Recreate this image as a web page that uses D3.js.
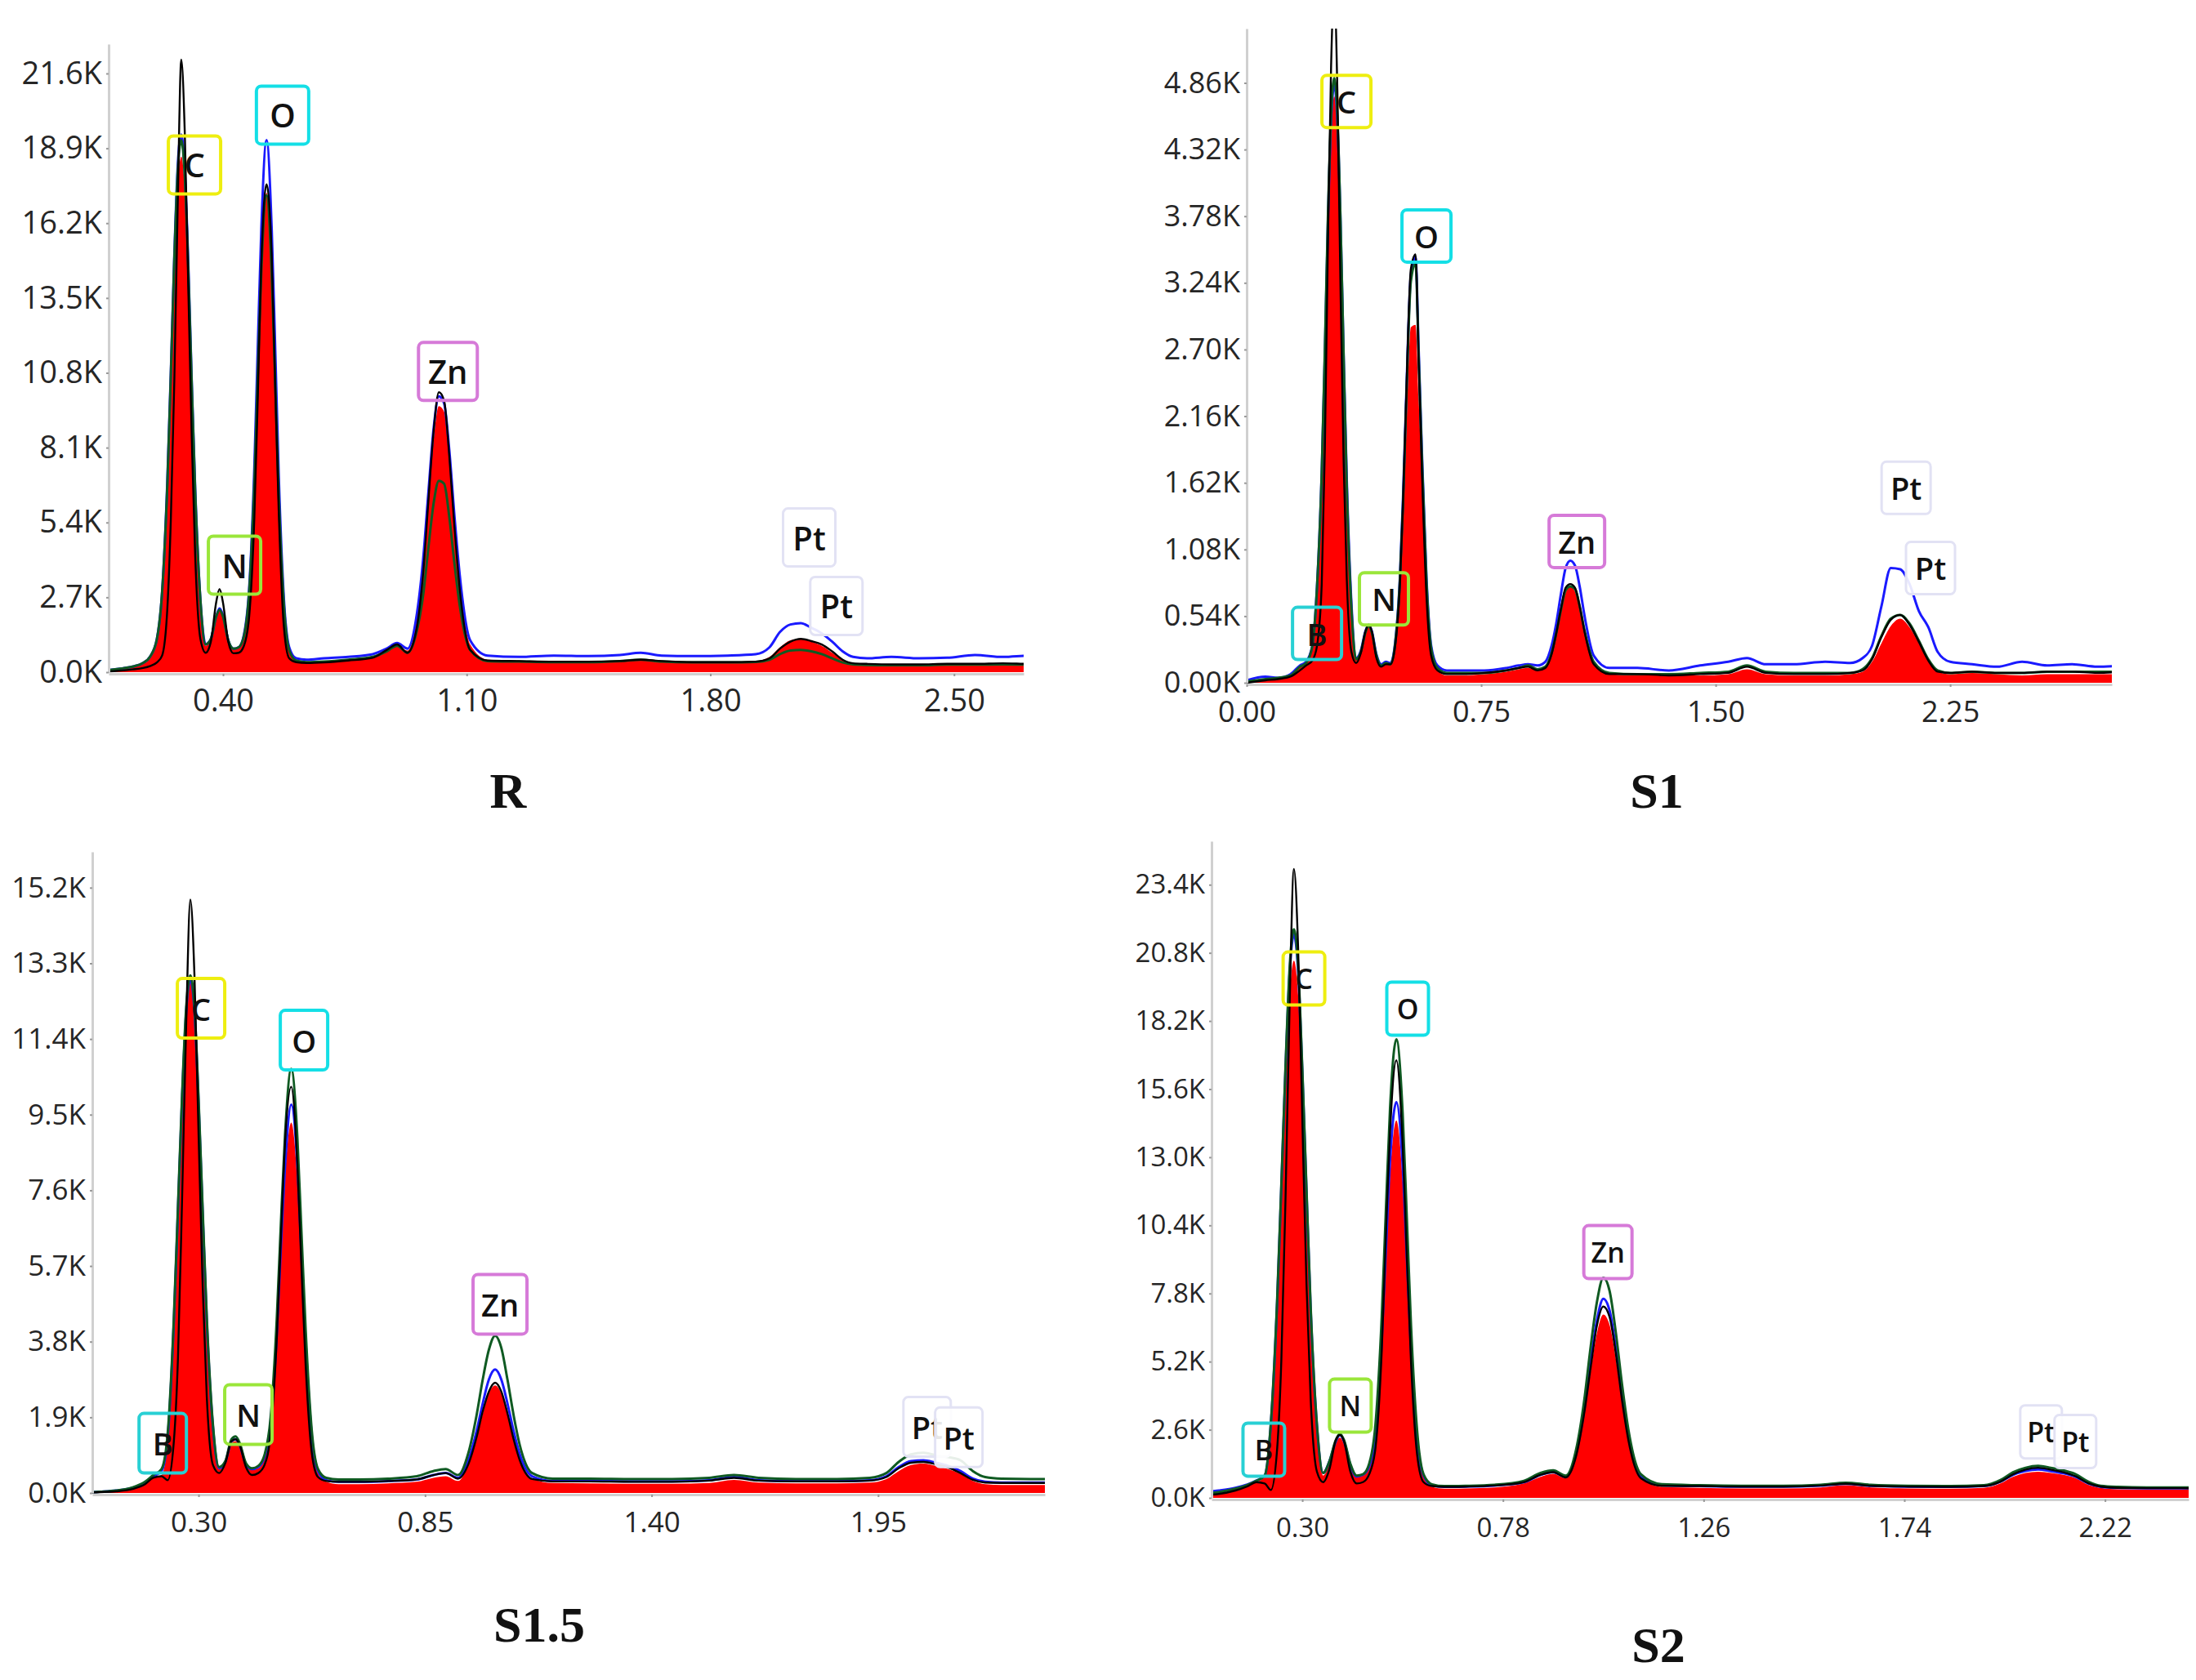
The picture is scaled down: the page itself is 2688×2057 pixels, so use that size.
<!DOCTYPE html>
<html>
<head>
<meta charset="utf-8">
<script src="https://cdn.jsdelivr.net/npm/d3@7"></script>
<style>
  body { margin: 0; background: #fff; }
  svg { display: block; }
</style>
</head>
<body>
<svg id="chart" width="2688" height="2057"></svg>
<script>
// energy grid (keV), shared by every spectrum below
const energy = [
  0.00, 0.06, 0.10, 0.14, 0.17, 0.19, 0.21, 0.225, 0.24, 0.25,
  0.26, 0.27, 0.28, 0.29, 0.30, 0.31, 0.32, 0.335, 0.35, 0.365,
  0.38, 0.39, 0.40, 0.415, 0.43, 0.445, 0.46, 0.475, 0.49, 0.50,
  0.51, 0.525, 0.54, 0.55, 0.56, 0.575, 0.59, 0.61, 0.64, 0.69,
  0.76, 0.83, 0.87, 0.90, 0.93, 0.955, 0.975, 0.99, 1.005, 1.02,
  1.035, 1.05, 1.065, 1.08, 1.11, 1.16, 1.25, 1.35, 1.45, 1.54,
  1.60, 1.66, 1.75, 1.85, 1.93, 1.97, 2.00, 2.03, 2.06, 2.09,
  2.12, 2.15, 2.18, 2.21, 2.25, 2.32, 2.40, 2.48, 2.56, 2.64,
  2.72, 2.80
];

// counts, in thousands (K)
// ---- R
const rRed = [
  0.02, 0.05, 0.10, 0.18, 0.30, 0.50, 1.1, 2.7, 6.5, 10.3,
  14.3, 17.5, 18.6, 17.4, 14.2, 10.1, 6.3, 2.5, 0.95, 1.2,
  2.05, 2.3, 2.05, 1.15, 0.85, 0.9, 1.3, 2.8, 6.9, 10.8,
  14.6, 17.3, 14.4, 10.5, 6.5, 2.4, 0.8, 0.42, 0.35, 0.37,
  0.45, 0.55, 0.75, 0.92, 0.78, 1.8, 3.9, 6.2, 8.4, 9.6,
  9.4, 7.7, 5.4, 3.3, 1.0, 0.45, 0.42, 0.4, 0.4, 0.42,
  0.48, 0.42, 0.38, 0.38, 0.4, 0.55, 0.9, 1.15, 1.2, 1.1,
  0.95, 0.7, 0.45, 0.33, 0.3, 0.28, 0.28, 0.3, 0.3, 0.32,
  0.3, 0.3
];
const rBlue = [
  0.02, 0.06, 0.12, 0.2, 0.33, 0.55, 1.2, 2.9, 6.9, 10.8,
  15.0, 18.3, 19.4, 18.1, 14.8, 10.5, 6.6, 2.6, 1.0, 1.2,
  2.0, 2.3, 2.05, 1.15, 0.85, 0.9, 1.35, 3.0, 7.4, 11.8,
  16.0, 19.2, 15.9, 11.6, 7.1, 2.6, 0.9, 0.5, 0.45, 0.5,
  0.55, 0.65, 0.85, 1.05, 0.85, 1.95, 4.1, 6.5, 8.8, 9.95,
  9.7, 8.0, 5.6, 3.5, 1.15, 0.6, 0.55, 0.6, 0.58, 0.62,
  0.7, 0.6, 0.58, 0.6, 0.65, 0.9, 1.45, 1.72, 1.77, 1.6,
  1.4, 1.1, 0.75, 0.55, 0.5, 0.55, 0.5, 0.52, 0.62, 0.55,
  0.6, 0.6
];
const rGreen = [
  0.02, 0.06, 0.12, 0.2, 0.33, 0.55, 1.2, 2.9, 6.8, 10.7,
  14.9, 18.1, 19.2, 17.9, 14.6, 10.4, 6.5, 2.6, 1.0, 1.2,
  2.0, 2.25, 2.0, 1.15, 0.85, 0.9, 1.3, 2.9, 6.9, 10.8,
  14.5, 17.2, 14.3, 10.4, 6.4, 2.4, 0.8, 0.42, 0.36, 0.38,
  0.45, 0.55, 0.75, 0.95, 0.7, 1.4, 2.8, 4.5, 6.1, 6.9,
  6.8, 5.6, 3.9, 2.4, 0.8, 0.4, 0.38, 0.36, 0.36, 0.4,
  0.45, 0.38, 0.35, 0.35, 0.37, 0.45, 0.65, 0.78, 0.8, 0.75,
  0.65, 0.5, 0.35, 0.28, 0.26, 0.25, 0.25, 0.27, 0.27, 0.28,
  0.27, 0.27
];
const rBlack = [
  0.0, 0.02, 0.05, 0.1, 0.15, 0.22, 0.35, 0.6, 2.3, 5.5,
  10.5, 17.0, 22.1, 19.5, 14.0, 8.5, 4.2, 1.2, 0.7, 1.1,
  2.5, 3.0, 2.5, 1.1, 0.68, 0.7, 0.95, 2.0, 5.6, 10.0,
  14.8, 17.6, 15.0, 10.2, 5.8, 1.6, 0.5, 0.36, 0.33, 0.35,
  0.42, 0.52, 0.8, 1.0, 0.7, 1.5, 3.6, 6.2, 8.7, 10.1,
  9.8, 7.8, 5.2, 3.0, 0.8, 0.42, 0.4, 0.38, 0.38, 0.4,
  0.45, 0.4, 0.36, 0.36, 0.38, 0.5, 0.85, 1.1, 1.2, 1.12,
  1.0, 0.75, 0.45, 0.32, 0.3, 0.28, 0.28, 0.3, 0.3, 0.32,
  0.3, 0.3
];

// ---- S1
const s1Red = [
  0.0, 0.02, 0.03, 0.05, 0.12, 0.16, 0.3, 0.75, 1.65, 2.6,
  3.65, 4.45, 4.75, 4.45, 3.65, 2.6, 1.6, 0.62, 0.2, 0.25,
  0.4, 0.45, 0.4, 0.22, 0.15, 0.17, 0.15, 0.3, 0.75, 1.3,
  2.0, 2.88, 2.9, 2.3, 1.65, 0.75, 0.25, 0.1, 0.06, 0.06,
  0.07, 0.09, 0.11, 0.12, 0.1, 0.12, 0.23, 0.38, 0.57, 0.73,
  0.78, 0.74, 0.6, 0.42, 0.16, 0.07, 0.06, 0.06, 0.06, 0.07,
  0.11, 0.07, 0.06, 0.06, 0.07, 0.09, 0.17, 0.32, 0.46, 0.52,
  0.45, 0.32, 0.18, 0.09, 0.07, 0.08, 0.07, 0.06, 0.07, 0.07,
  0.07, 0.07
];
const s1Blue = [
  0.02, 0.05, 0.04, 0.07, 0.14, 0.17, 0.3, 0.78, 1.7, 2.65,
  3.75, 4.55, 4.85, 4.55, 3.75, 2.65, 1.65, 0.64, 0.2, 0.26,
  0.42, 0.47, 0.42, 0.23, 0.15, 0.17, 0.16, 0.33, 0.85, 1.5,
  2.3, 3.3, 3.45, 2.7, 1.9, 0.85, 0.3, 0.14, 0.1, 0.1,
  0.1, 0.12, 0.14, 0.15, 0.14, 0.17, 0.3, 0.48, 0.72, 0.93,
  0.99, 0.95, 0.78, 0.55, 0.22, 0.12, 0.12, 0.1, 0.14, 0.17,
  0.2, 0.15, 0.15, 0.17, 0.16, 0.2, 0.3, 0.62, 0.93, 0.92,
  0.8, 0.58, 0.45, 0.25, 0.17, 0.15, 0.13, 0.17, 0.14, 0.15,
  0.13, 0.14
];
const s1Green = [
  0.01, 0.03, 0.04, 0.06, 0.13, 0.16, 0.3, 0.78, 1.7, 2.7,
  3.8, 4.6, 4.9, 4.6, 3.75, 2.65, 1.6, 0.6, 0.19, 0.25,
  0.41, 0.46, 0.41, 0.22, 0.14, 0.16, 0.15, 0.32, 0.83, 1.45,
  2.25, 3.25, 3.4, 2.65, 1.85, 0.82, 0.28, 0.12, 0.08, 0.08,
  0.08, 0.1, 0.12, 0.14, 0.11, 0.13, 0.24, 0.4, 0.59, 0.75,
  0.78, 0.76, 0.62, 0.43, 0.17, 0.08, 0.07, 0.07, 0.08, 0.09,
  0.14, 0.09, 0.08, 0.08, 0.08, 0.11, 0.2, 0.38, 0.52, 0.55,
  0.48, 0.34, 0.19, 0.1, 0.08, 0.09, 0.08, 0.08, 0.09, 0.09,
  0.09, 0.09
];
const s1Black = [
  0.0, 0.02, 0.03, 0.05, 0.1, 0.14, 0.18, 0.3, 0.8, 1.9,
  3.6, 5.0, 5.6, 4.8, 3.2, 1.8, 0.85, 0.25, 0.16, 0.24,
  0.42, 0.47, 0.42, 0.2, 0.13, 0.15, 0.15, 0.3, 0.8, 1.45,
  2.3, 3.35, 3.47, 2.6, 1.75, 0.7, 0.22, 0.1, 0.07, 0.07,
  0.08, 0.1, 0.12, 0.13, 0.1, 0.12, 0.23, 0.4, 0.6, 0.77,
  0.8, 0.77, 0.62, 0.42, 0.15, 0.07, 0.07, 0.06, 0.07, 0.08,
  0.13, 0.08, 0.07, 0.07, 0.08, 0.1, 0.19, 0.37, 0.51, 0.55,
  0.47, 0.33, 0.18, 0.09, 0.08, 0.09, 0.08, 0.08, 0.09, 0.09,
  0.08, 0.09
];

// ---- S1.5
const s15Red = [
  0.0, 0.02, 0.05, 0.1, 0.22, 0.38, 0.45, 1.3, 4.2, 7.0,
  9.8, 12.1, 12.9, 12.1, 9.8, 7.0, 4.3, 1.6, 0.6, 0.75,
  1.25, 1.3, 1.15, 0.7, 0.58, 0.62, 0.85, 1.65, 3.8, 5.95,
  7.9, 9.3, 7.8, 5.7, 3.6, 1.35, 0.5, 0.28, 0.22, 0.22,
  0.24, 0.28, 0.38, 0.42, 0.3, 0.73, 1.37, 1.98, 2.5, 2.7,
  2.5, 1.98, 1.37, 0.86, 0.36, 0.25, 0.24, 0.23, 0.23, 0.25,
  0.33, 0.26, 0.24, 0.24, 0.26, 0.35, 0.55, 0.7, 0.74, 0.68,
  0.6, 0.48, 0.3, 0.22, 0.2, 0.2, 0.2, 0.2, 0.2, 0.2,
  0.2, 0.2
];
const s15Blue = [
  0.0, 0.03, 0.06, 0.13, 0.26, 0.42, 0.55, 1.4, 4.3, 7.1,
  9.9, 12.1, 12.9, 12.1, 9.8, 7.0, 4.3, 1.65, 0.62, 0.78,
  1.3, 1.35, 1.2, 0.72, 0.6, 0.65, 0.9, 1.75, 4.0, 6.2,
  8.2, 9.75, 8.2, 5.95, 3.8, 1.42, 0.55, 0.32, 0.28, 0.28,
  0.3, 0.34, 0.45, 0.5, 0.38, 0.82, 1.55, 2.25, 2.85, 3.1,
  2.85, 2.25, 1.55, 0.97, 0.42, 0.3, 0.3, 0.29, 0.29, 0.32,
  0.4, 0.32, 0.3, 0.3, 0.32, 0.42, 0.65, 0.8, 0.82, 0.76,
  0.68, 0.55, 0.36, 0.28, 0.26, 0.26, 0.26, 0.26, 0.27, 0.26,
  0.26, 0.26
];
const s15Green = [
  0.0, 0.03, 0.06, 0.14, 0.28, 0.45, 0.6, 1.5, 4.4, 7.2,
  10.0, 12.2, 13.0, 12.2, 9.9, 7.1, 4.4, 1.7, 0.65, 0.8,
  1.35, 1.42, 1.25, 0.75, 0.62, 0.68, 0.95, 1.9, 4.4, 6.8,
  9.0, 10.65, 8.9, 6.5, 4.1, 1.55, 0.6, 0.38, 0.34, 0.34,
  0.36, 0.42, 0.55, 0.6, 0.45, 1.0, 1.95, 2.85, 3.6, 3.95,
  3.65, 2.85, 1.95, 1.2, 0.5, 0.36, 0.36, 0.35, 0.35, 0.38,
  0.45, 0.38, 0.35, 0.35, 0.38, 0.5, 0.78, 0.97, 1.01, 0.95,
  0.9, 0.82, 0.55, 0.4, 0.36, 0.35, 0.35, 0.35, 0.36, 0.35,
  0.35, 0.35
];
const s15Black = [
  0.0, 0.02, 0.04, 0.1, 0.22, 0.38, 0.42, 0.32, 1.3, 3.4,
  7.4, 11.8, 14.9, 13.0, 9.0, 5.2, 2.4, 0.7, 0.5, 0.75,
  1.3, 1.35, 1.2, 0.65, 0.45, 0.5, 0.7, 1.5, 3.9, 6.4,
  8.8, 10.2, 8.2, 5.6, 3.2, 1.0, 0.4, 0.3, 0.28, 0.28,
  0.3, 0.34, 0.45, 0.5, 0.36, 0.72, 1.4, 2.05, 2.55, 2.77,
  2.55, 2.0, 1.35, 0.82, 0.35, 0.29, 0.29, 0.28, 0.28, 0.31,
  0.38, 0.31, 0.29, 0.29, 0.31, 0.4, 0.62, 0.76, 0.78, 0.72,
  0.64, 0.5, 0.33, 0.26, 0.25, 0.25, 0.25, 0.25, 0.26, 0.25,
  0.25, 0.25
];

// ---- S2
const s2Red = [
  0.1, 0.12, 0.18, 0.3, 0.45, 0.6, 0.8, 2.6, 7.1, 11.4,
  15.6, 19.2, 20.5, 19.2, 15.5, 11.1, 6.9, 2.6, 0.85, 1.3,
  2.1, 2.3, 2.05, 1.2, 0.8, 0.85, 1.15, 2.4, 5.7, 9.0,
  12.3, 14.4, 12.1, 8.8, 5.5, 2.1, 0.8, 0.42, 0.35, 0.36,
  0.4, 0.55, 0.8, 0.92, 0.75, 1.57, 3.2, 4.85, 6.3, 7.0,
  6.6, 5.3, 3.6, 2.2, 0.75, 0.42, 0.38, 0.36, 0.36, 0.4,
  0.48, 0.4, 0.36, 0.35, 0.38, 0.55, 0.8, 0.95, 1.0, 0.95,
  0.88, 0.75, 0.5, 0.38, 0.33, 0.32, 0.32, 0.31, 0.3, 0.3,
  0.3, 0.3
];
const s2Blue = [
  0.2, 0.22, 0.28, 0.38, 0.52, 0.66, 0.85, 2.85, 7.5, 11.9,
  16.4, 20.1, 21.5, 20.1, 16.3, 11.7, 7.2, 2.75, 0.95, 1.4,
  2.15, 2.4, 2.15, 1.25, 0.82, 0.88, 1.2, 2.5, 6.0, 9.5,
  12.9, 15.1, 12.7, 9.2, 5.7, 2.2, 0.85, 0.48, 0.42, 0.43,
  0.47, 0.6, 0.88, 0.98, 0.8, 1.7, 3.45, 5.25, 6.8, 7.6,
  7.15, 5.7, 3.9, 2.4, 0.82, 0.48, 0.45, 0.43, 0.43, 0.47,
  0.54, 0.46, 0.43, 0.42, 0.45, 0.62, 0.88, 1.03, 1.08, 1.02,
  0.94, 0.8, 0.55, 0.42, 0.38, 0.37, 0.37, 0.36, 0.35, 0.35,
  0.35, 0.35
];
const s2Green = [
  0.12, 0.15, 0.22, 0.35, 0.5, 0.65, 0.85, 2.9, 7.6, 12.0,
  16.5, 20.3, 21.7, 20.3, 16.4, 11.8, 7.3, 2.8, 0.95, 1.4,
  2.2, 2.45, 2.2, 1.3, 0.85, 0.9, 1.3, 2.8, 6.9, 11.0,
  14.9, 17.5, 14.7, 10.7, 6.6, 2.5, 0.9, 0.52, 0.45, 0.46,
  0.5, 0.65, 0.95, 1.05, 0.85, 1.85, 3.8, 5.8, 7.5, 8.4,
  7.9, 6.3, 4.3, 2.6, 0.9, 0.52, 0.48, 0.46, 0.46, 0.5,
  0.58, 0.5, 0.46, 0.45, 0.48, 0.68, 0.98, 1.15, 1.22, 1.15,
  1.05, 0.9, 0.62, 0.46, 0.42, 0.4, 0.4, 0.39, 0.38, 0.38,
  0.38, 0.38
];
const s2Black = [
  0.08, 0.1, 0.15, 0.28, 0.45, 0.6, 0.55, 0.3, 1.9, 5.3,
  11.5, 19.0, 24.0, 21.0, 14.5, 8.2, 3.8, 1.0, 0.6, 1.1,
  2.2, 2.4, 2.15, 1.0, 0.55, 0.6, 0.9, 1.9, 5.6, 10.0,
  14.0, 16.7, 13.5, 9.2, 5.2, 1.6, 0.6, 0.45, 0.42, 0.43,
  0.47, 0.6, 0.88, 0.98, 0.78, 1.6, 3.3, 5.0, 6.6, 7.3,
  6.9, 5.5, 3.7, 2.2, 0.75, 0.46, 0.45, 0.43, 0.43, 0.47,
  0.54, 0.46, 0.43, 0.42, 0.45, 0.62, 0.9, 1.08, 1.15, 1.08,
  0.98, 0.82, 0.56, 0.43, 0.38, 0.37, 0.37, 0.36, 0.35, 0.35,
  0.35, 0.35
];

// tick values
const rYTicks = [0, 2.7, 5.4, 8.1, 10.8, 13.5, 16.2, 18.9, 21.6];
const rXTicks = [0.40, 1.10, 1.80, 2.50];
const s1YTicks = [0, 0.54, 1.08, 1.62, 2.16, 2.70, 3.24, 3.78, 4.32, 4.86];
const s1XTicks = [0.00, 0.75, 1.50, 2.25];
const s15YTicks = [0, 1.9, 3.8, 5.7, 7.6, 9.5, 11.4, 13.3, 15.2];
const s15XTicks = [0.30, 0.85, 1.40, 1.95];
const s2YTicks = [0, 2.6, 5.2, 7.8, 10.4, 13.0, 15.6, 18.2, 20.8, 23.4];
const s2XTicks = [0.30, 0.78, 1.26, 1.74, 2.22];

// element markers (keV, K counts of the box centre)
const rLabels = [
  { el: 'C', e: 0.318, v: 18.3 }, { el: 'O', e: 0.571, v: 20.1 },
  { el: 'N', e: 0.433, v: 3.86 }, { el: 'Zn', e: 1.046, v: 10.85 },
  { el: 'Pt', e: 2.084, v: 4.86 }, { el: 'Pt', e: 2.162, v: 2.39 }
];
const s1Labels = [
  { el: 'C', e: 0.319, v: 4.71 }, { el: 'O', e: 0.575, v: 3.62 },
  { el: 'N', e: 0.439, v: 0.68 }, { el: 'B', e: 0.225, v: 0.40 },
  { el: 'Zn', e: 1.056, v: 1.145 },
  { el: 'Pt', e: 2.109, v: 1.58 }, { el: 'Pt', e: 2.187, v: 0.93 }
];
const s15Labels = [
  { el: 'C', e: 0.306, v: 12.17 }, { el: 'O', e: 0.556, v: 11.37 },
  { el: 'N', e: 0.421, v: 1.97 }, { el: 'B', e: 0.213, v: 1.25 },
  { el: 'Zn', e: 1.032, v: 4.74 },
  { el: 'Pt', e: 2.069, v: 1.66 }, { el: 'Pt', e: 2.146, v: 1.40 }
];
const s2Labels = [
  { el: 'C', e: 0.304, v: 19.82 }, { el: 'O', e: 0.552, v: 18.67 },
  { el: 'N', e: 0.415, v: 3.52 }, { el: 'B', e: 0.208, v: 1.84 },
  { el: 'Zn', e: 1.031, v: 9.38 },
  { el: 'Pt', e: 2.067, v: 2.52 }, { el: 'Pt', e: 2.149, v: 2.15 }
];

const boxColor = { C: '#eeee10', O: '#14dfe6', N: '#9ae63a', B: '#28d0d4', Zn: '#d67ad8', Pt: '#e2e2f4' };

const seriesStyle = [
  { key: 'blue', color: '#1a1aff', width: 3 },
  { key: 'green', color: '#0f5a22', width: 3 },
  { key: 'black', color: '#000000', width: 2.4 }
];

const panels = [
  { title: 'R', red: rRed, blue: rBlue, green: rGreen, black: rBlack,
    xDomain: [0.0714, 2.70], yMax: 22.66, left: 133, right: 1253, top: 54, bottom: 823,
    yTicks: rYTicks, yFmt: '.1f', xTicks: rXTicks, labels: rLabels,
    font: 38, labelFont: 40, box: [64, 71], titleX: 622, titleY: 989 },
  { title: 'S1', red: s1Red, blue: s1Blue, green: s1Green, black: s1Black,
    xDomain: [0, 2.767], yMax: 5.30, left: 1526, right: 2585, top: 35, bottom: 836,
    yTicks: s1YTicks, yFmt: '.2f', xTicks: s1XTicks, labels: s1Labels,
    font: 36, labelFont: 38, box: [60, 64], titleX: 2028, titleY: 989 },
  { title: 'S1.5', red: s15Red, blue: s15Blue, green: s15Green, black: s15Black,
    xDomain: [0.042, 2.355], yMax: 16.1, left: 113, right: 1279, top: 1043, bottom: 1828,
    yTicks: s15YTicks, yFmt: '.1f', xTicks: s15XTicks, labels: s15Labels,
    font: 35, labelFont: 38, box: [58, 73], titleX: 660, titleY: 2010 },
  { title: 'S2', red: s2Red, blue: s2Blue, green: s2Green, black: s2Black,
    xDomain: [0.083, 2.42], yMax: 25.06, left: 1483, right: 2679, top: 1030, bottom: 1834,
    yTicks: s2YTicks, yFmt: '.1f', xTicks: s2XTicks, labels: s2Labels,
    font: 33, labelFont: 34, box: [51, 65], titleX: 2030, titleY: 2035 }
];

const svg = d3.select('#chart');

function drawPanel(p, i) {
  const x = d3.scaleLinear().domain(p.xDomain).range([p.left, p.right]);
  const y = d3.scaleLinear().domain([0, p.yMax]).range([p.bottom, p.top]);
  const g = svg.append('g');

  g.append('clipPath').attr('id', 'clip' + i)
    .append('rect')
    .attr('x', p.left).attr('y', p.top)
    .attr('width', p.right - p.left).attr('height', p.bottom - p.top + 2);

  const plot = g.append('g').attr('clip-path', 'url(#clip' + i + ')');
  const pts = arr => arr.map((v, k) => [energy[k], v]);

  const area = d3.area().x(d => x(d[0])).y0(y(0)).y1(d => y(d[1])).curve(d3.curveMonotoneX);
  const line = d3.line().x(d => x(d[0])).y(d => y(d[1])).curve(d3.curveMonotoneX);

  plot.append('path').datum(pts(p.red)).attr('d', area).attr('fill', '#ff0000');
  seriesStyle.forEach(s => {
    plot.append('path').datum(pts(p[s.key])).attr('d', line)
      .attr('fill', 'none')
      .attr('stroke', s.color)
      .attr('stroke-width', s.width)
      .attr('stroke-linejoin', 'round');
  });

  // axes
  const yAxis = g.append('g').attr('transform', `translate(${p.left},0)`)
    .call(d3.axisLeft(y).tickValues(p.yTicks).tickSize(3).tickSizeOuter(0).tickPadding(5)
      .tickFormat(d => d3.format(p.yFmt)(d) + 'K'));
  const xAxis = g.append('g').attr('transform', `translate(0,${p.bottom + 2})`)
    .call(d3.axisBottom(x).tickValues(p.xTicks).tickSize(3).tickSizeOuter(0)
      .tickFormat(d3.format('.2f')));
  xAxis.selectAll('text').attr('y', 46).attr('dy', null);

  [yAxis, xAxis].forEach(a => {
    a.select('.domain').attr('stroke', '#d0d0d0').attr('stroke-width', 3);
    a.selectAll('.tick line').attr('stroke', '#999').attr('stroke-width', 2);
    a.selectAll('text')
      .attr('fill', '#262626')
      .style('font-family', '"Open Sans", "Noto Sans", sans-serif')
      .style('font-size', p.font + 'px');
  });

  // element markers
  const lab = g.append('g');
  p.labels.forEach(l => {
    const w = p.box[0] + (l.el === 'Zn' ? 8 : 0);
    const h = p.box[1];
    const cx = x(l.e), cy = y(l.v);
    lab.append('rect')
      .attr('x', cx - w / 2).attr('y', cy - h / 2)
      .attr('width', w).attr('height', h)
      .attr('rx', 6)
      .attr('fill', l.el === 'Pt' ? 'rgba(255,255,255,0.9)' : 'none')
      .attr('stroke', boxColor[l.el])
      .attr('stroke-width', l.el === 'Pt' ? 3 : 4);
    lab.append('text')
      .attr('x', cx).attr('y', cy)
      .attr('text-anchor', 'middle')
      .attr('dominant-baseline', 'central')
      .attr('fill', '#111')
      .style('font-family', '"Open Sans", "Noto Sans", sans-serif')
      .style('font-weight', 600)
      .style('font-size', p.labelFont + 'px')
      .text(l.el);
  });

  g.append('text')
    .attr('x', p.titleX).attr('y', p.titleY)
    .attr('text-anchor', 'middle')
    .attr('fill', '#111')
    .style('font-family', '"Liberation Serif", "DejaVu Serif", serif')
    .style('font-weight', 'bold')
    .style('font-size', '62px')
    .text(p.title);
}

panels.forEach(drawPanel);
</script>
</body>
</html>
